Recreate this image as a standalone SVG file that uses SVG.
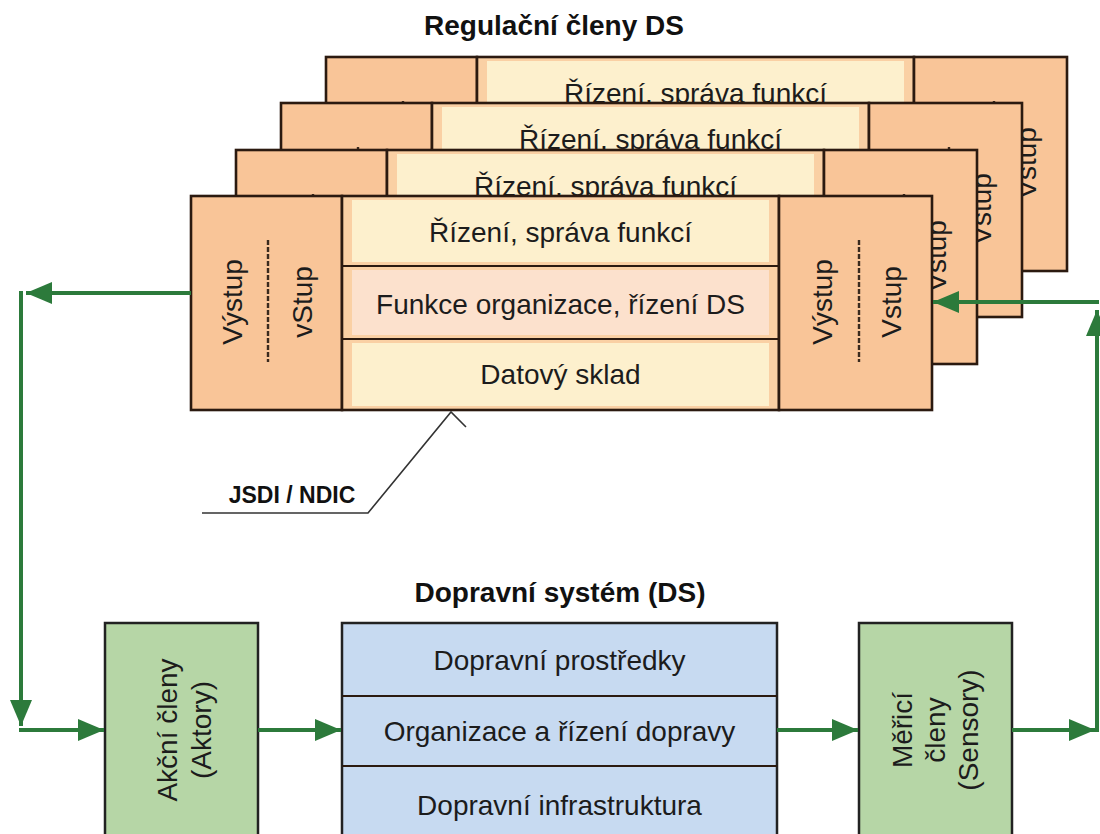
<svg xmlns="http://www.w3.org/2000/svg" xmlns:xlink="http://www.w3.org/1999/xlink" width="1100" height="834" viewBox="0 0 1100 834">
<style>
  .panel{fill:#f9c598;stroke:#2b1a10;stroke-width:2.6}
  .row{fill:#fad0a4}
  .in1{fill:#fdf0cd}
  .in2{fill:#fce1cd}
  .div{stroke:#2b1a10;stroke-width:2}
  .frame{fill:none;stroke:#2b1a10;stroke-width:2.6}
  .dash{stroke:#3a2a1e;stroke-width:2.4;stroke-dasharray:5 2}
  .t{font-family:"Liberation Sans",Arial,sans-serif;font-size:28px;fill:#1c1c1c}
  .b{font-family:"Liberation Sans",Arial,sans-serif;font-weight:bold;fill:#111}
  .conn{stroke:#2c7a3b;stroke-width:4;fill:none}
  .green{fill:#b6d6a6;stroke:#222;stroke-width:2.5}
  .blue{fill:#c7daf1;stroke:#222;stroke-width:2.5}
  .leader{stroke:#333;stroke-width:1.6;fill:none}
</style>
<defs>
  <marker id="ah" markerUnits="userSpaceOnUse" markerWidth="26" markerHeight="22" refX="26" refY="11" orient="auto">
    <path d="M0,0 L26,11 L0,22 z" fill="#2c7a3b"/>
  </marker>
  <g id="regLayer">
    <rect class="panel" x="0" y="0" width="151" height="214"/>
    <rect class="row" x="151" y="0" width="437" height="214"/>
    <rect class="in1" x="161" y="4" width="417" height="62"/>
    <rect class="in2" x="161" y="74" width="417" height="65"/>
    <rect class="in1" x="161" y="147" width="417" height="63"/>
    <line class="div" x1="151" y1="70" x2="588" y2="70"/>
    <line class="div" x1="151" y1="143" x2="588" y2="143"/>
    <rect class="frame" x="151" y="0" width="437" height="214"/>
    <rect class="panel" x="588" y="0" width="153" height="214"/>
    <text class="t" x="369.5" y="36" text-anchor="middle" dominant-baseline="central">Řízení, správa funkcí</text>
    <text class="t" x="369.5" y="108" text-anchor="middle" dominant-baseline="central">Funkce organizace, řízení DS</text>
    <text class="t" x="369.5" y="178" text-anchor="middle" dominant-baseline="central">Datový sklad</text>
    <text class="t" transform="translate(41,106) rotate(-90)" text-anchor="middle" dominant-baseline="central">Výstup</text>
    <line class="dash" x1="77" y1="44" x2="77" y2="166"/>
    <text class="t" transform="translate(111,106) rotate(-90)" text-anchor="middle" dominant-baseline="central">vStup</text>
    <text class="t" transform="translate(631,106) rotate(-90)" text-anchor="middle" dominant-baseline="central">Výstup</text>
    <line class="dash" x1="668" y1="44" x2="668" y2="166"/>
    <text class="t" transform="translate(700,106) rotate(-90)" text-anchor="middle" dominant-baseline="central">Vstup</text>
  </g>
</defs>

<text id="title-reg" class="b" x="554" y="35" font-size="28" text-anchor="middle">Regulační členy DS</text>

<g id="reg-layer-4"><use xlink:href="#regLayer" href="#regLayer" x="326" y="57"/></g>
<g id="reg-layer-3"><use xlink:href="#regLayer" href="#regLayer" x="281" y="103"/></g>
<g id="reg-layer-2"><use xlink:href="#regLayer" href="#regLayer" x="236" y="150"/></g>
<g id="reg-layer-1"><use xlink:href="#regLayer" href="#regLayer" x="191" y="196"/></g>

<g id="jsdi-label">
  <polyline class="leader" points="202,513 368,513 451,412 466,427"/>
  <text class="b" x="292" y="503" font-size="23" text-anchor="middle">JSDI / NDIC</text>
</g>

<text id="title-ds" class="b" x="560" y="602" font-size="28" text-anchor="middle">Dopravní systém (DS)</text>

<g id="aktory">
  <rect class="green" x="105" y="623" width="153" height="225"/>
  <text class="t" transform="translate(184,730) rotate(-90)" text-anchor="middle" dominant-baseline="central"><tspan x="0" y="-17">Akční členy</tspan><tspan x="0" y="17">(Aktory)</tspan></text>
</g>

<g id="dopravni-system">
  <rect class="blue" x="342" y="623" width="435" height="225"/>
  <line class="div" x1="342" y1="696" x2="777" y2="696" stroke="#222"/>
  <line class="div" x1="342" y1="766" x2="777" y2="766" stroke="#222"/>
  <text class="t" x="559.5" y="660" text-anchor="middle" dominant-baseline="central">Dopravní prostředky</text>
  <text class="t" x="559.5" y="731" text-anchor="middle" dominant-baseline="central">Organizace a řízení dopravy</text>
  <text class="t" x="559.5" y="805" text-anchor="middle" dominant-baseline="central">Dopravní infrastruktura</text>
</g>

<g id="sensory">
  <rect class="green" x="859" y="623" width="153" height="225"/>
  <text class="t" transform="translate(935,730) rotate(-90)" text-anchor="middle" dominant-baseline="central"><tspan x="0" y="-33">Měřicí</tspan><tspan x="0" y="0">členy</tspan><tspan x="0" y="33">(Sensory)</tspan></text>
</g>

<g id="connectors">
  <line class="conn" x1="191" y1="293" x2="26" y2="293" marker-end="url(#ah)"/>
  <line class="conn" x1="21" y1="291" x2="21" y2="726" marker-end="url(#ah)"/>
  <line class="conn" x1="19" y1="730" x2="104" y2="730" marker-end="url(#ah)"/>
  <line class="conn" x1="258" y1="730" x2="341" y2="730" marker-end="url(#ah)"/>
  <line class="conn" x1="777" y1="730" x2="858" y2="730" marker-end="url(#ah)"/>
  <line class="conn" x1="1012" y1="730" x2="1095" y2="730" marker-end="url(#ah)"/>
  <line class="conn" x1="1097" y1="732" x2="1097" y2="310" marker-end="url(#ah)"/>
  <line class="conn" x1="1099" y1="302" x2="933" y2="302" marker-end="url(#ah)"/>
</g>
</svg>
